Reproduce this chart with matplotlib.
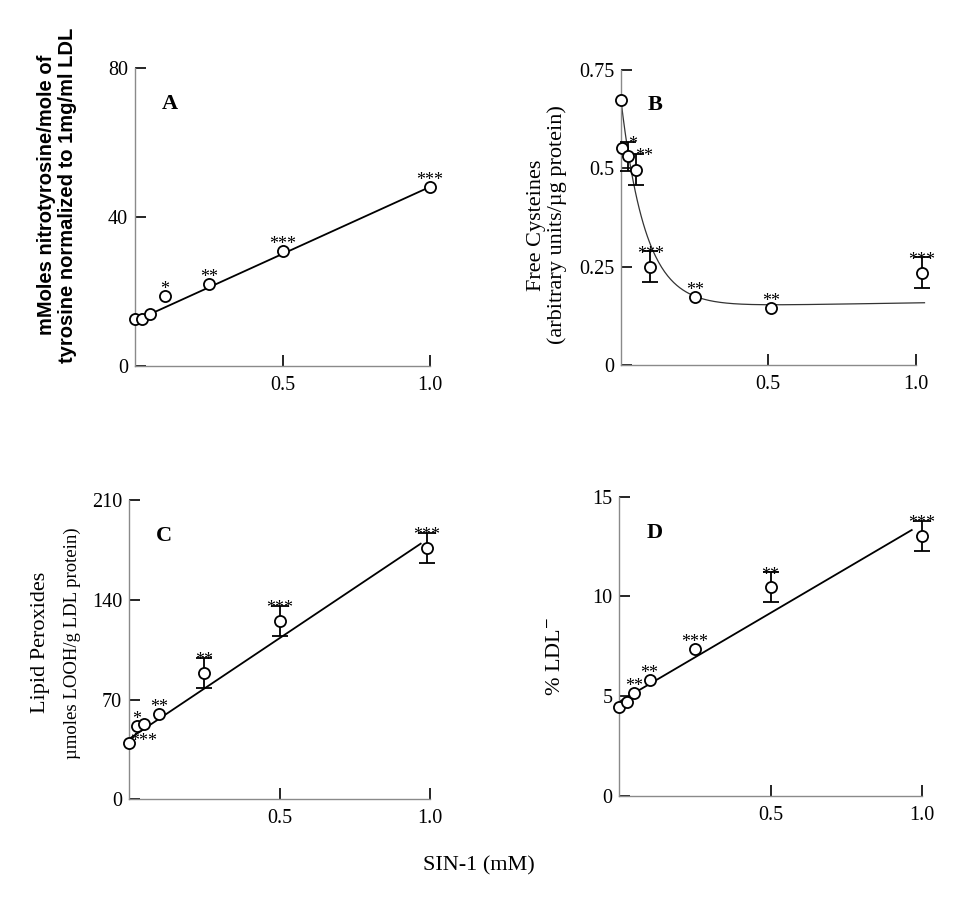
import numpy as np
import matplotlib
matplotlib.use("Agg")
import matplotlib.pyplot as plt

plt.rcParams['font.family'] = ['Liberation Serif', 'DejaVu Serif']
plt.rcParams['mathtext.fontset'] = 'stix'

# SIN-1 concentrations (mM)
x_A = [0, 0.025, 0.05, 0.1, 0.25, 0.5, 1.0]
y_A = [12.5, 12.6, 13.9, 18.9, 22.1, 30.8, 48.1]
err_A = [0, 0, 0, 0, 0, 0, 0]
stars_A = ['', '', '', '*', '**', '***', '***']
fit_A = (36.0, 12.1)          # slope, intercept

x_B = [0, 0.005, 0.025, 0.05, 0.1, 0.25, 0.51, 1.02]
y_B = [0.674, 0.553, 0.531, 0.497, 0.25, 0.173, 0.146, 0.235]
err_B = [0, 0, 0.037, 0.04, 0.04, 0, 0, 0.04]
stars_B = ['', '', '*', '**', '***', '**', '**', '***']
fit_B = (0.146, 0.012, 0.528, 12.0)   # c, d, a, k : c + d*x + a*exp(-k*x)

x_C = [0, 0.025, 0.05, 0.1, 0.25, 0.5, 0.99]
y_C = [39.8, 51.5, 52.9, 59.9, 88.9, 125.1, 176.4]
err_C = [0, 0, 0, 0, 10.5, 10.7, 10.7]
stars_C = ['', '*', '***', '**', '**', '***', '***']
below_C = [False, False, True, False, False, False, False]
fit_C = (141.4, 42.3)

x_D = [0, 0.025, 0.05, 0.1, 0.25, 0.5, 1.0]
y_D = [4.48, 4.71, 5.18, 5.81, 7.37, 10.46, 13.03]
err_D = [0, 0, 0, 0, 0, 0.76, 0.76]
stars_D = ['', '', '**', '**', '***', '**', '***']
fit_D = (8.9, 4.72)

fig = plt.figure(figsize=(9.59, 9.0), dpi=100)


def draw_panel(rect, x, y, err, stars, ylim, yticks, ylabels, letter, below=None, star_dx=None):
    ax = fig.add_axes(rect)
    for s in ['top', 'right']:
        ax.spines[s].set_visible(False)
    for s in ['left', 'bottom']:
        ax.spines[s].set_color('#8a8a8a')
        ax.spines[s].set_linewidth(1.0)
    ax.set_xlim(0, 1.0)
    ax.set_ylim(*ylim)
    ax.set_xticks([0.5, 1.0])
    ax.set_xticklabels(['0.5', '1.0'])
    ax.set_yticks(yticks)
    ax.set_yticklabels(ylabels)
    ax.tick_params(direction='in', length=8, width=1.2, color='black',
                   labelsize=14.5, pad=5)
    ax.tick_params(axis='x', pad=7)

    x = np.array(x)
    y = np.array(y)
    err = np.array(err)
    m = err > 0
    if m.any():
        ax.errorbar(x[m], y[m], yerr=err[m], fmt='none', ecolor='black',
                    elinewidth=1.3, capsize=6, capthick=1.3, clip_on=False, zorder=3)
    ax.plot(x, y, 'o', ms=8, mfc='white', mec='black', mew=1.3,
            clip_on=False, zorder=4)

    for i, s in enumerate(stars):
        if not s:
            continue
        dx = star_dx[i] if star_dx is not None else 0
        if below is not None and below[i]:
            xy, off = (x[i], y[i]), (dx, -16)
        elif err[i] > 0:
            xy, off = (x[i], y[i] + err[i]), (dx, -5.5)
        else:
            xy, off = (x[i], y[i]), (dx, 1.5)
        ax.annotate(s, xy, xytext=off, textcoords='offset points', ha='center',
                    va='baseline', fontsize=13, zorder=5, annotation_clip=False)

    ax.text(0.117, 0.88, letter, transform=ax.transAxes, ha='center', va='center',
            fontsize=16, fontweight='bold')
    return ax


# A
axA = draw_panel([0.1408, 0.5933, 0.3076, 0.3311], x_A, y_A, err_A, stars_A,
                 (0, 80), [0, 40, 80], ['0', '40', '80'], 'A')
xl = np.array([0, 1.0])
axA.plot(xl, fit_A[0] * xl + fit_A[1], color='black', lw=1.3, zorder=2)

# B
axB = draw_panel([0.6475, 0.5944, 0.3073, 0.3278], x_B, y_B, err_B, stars_B,
                 (0, 0.75), [0, 0.25, 0.5, 0.75], ['0', '0.25', '0.5', '0.75'], 'B',
                 star_dx=[0, 0, 3, 6, 0, 0, 0, 0])
xc = np.linspace(0, 1.03, 300)
c, d, a, k = fit_B
axB.plot(xc, c + d * xc + a * np.exp(-k * xc), color='#333333', lw=0.9,
         clip_on=False, zorder=2)

# C
axC = draw_panel([0.1345, 0.1119, 0.3139, 0.3326], x_C, y_C, err_C, stars_C,
                 (0, 210), [0, 70, 140, 210], ['0', '70', '140', '210'], 'C', below_C)
xl = np.array([0, 0.969])
axC.plot(xl, fit_C[0] * xl + fit_C[1], color='black', lw=1.3, zorder=2)

# D
axD = draw_panel([0.6458, 0.1156, 0.3153, 0.3326], x_D, y_D, err_D, stars_D,
                 (0, 15), [0, 5, 10, 15], ['0', '5', '10', '15'], 'D')
xl = np.array([0, 0.967])
axD.plot(xl, fit_D[0] * xl + fit_D[1], color='black', lw=1.3, zorder=2)

# axis labels
fig.text(57 / 959, 1 - 195 / 900,
         'mMoles nitrotyrosine/mole of\ntyrosine normalized to 1mg/ml LDL',
         rotation=90, ha='center', va='center', fontsize=14.5, fontweight='bold',
         family='Liberation Sans', linespacing=1.15)
fig.text(547 / 959, 1 - 225 / 900,
         'Free Cysteines\n(arbitrary units/µg protein)',
         rotation=90, ha='center', va='center', fontsize=16, linespacing=1.15)
fig.text(40 / 959, 1 - 642 / 900, 'Lipid Peroxides',
         rotation=90, ha='center', va='center', fontsize=16)
fig.text(72 / 959, 1 - 643 / 900, 'µmoles LOOH/g LDL protein)',
         rotation=90, ha='center', va='center', fontsize=13.5)
fig.text(555 / 959, 1 - 656 / 900, '% LDL$^{-}$',
         rotation=90, ha='center', va='center', fontsize=16)
fig.text(479 / 959, 1 - 866 / 900, 'SIN-1 (mM)', ha='center', va='center', fontsize=16)

fig.savefig('out.png', dpi=100)
